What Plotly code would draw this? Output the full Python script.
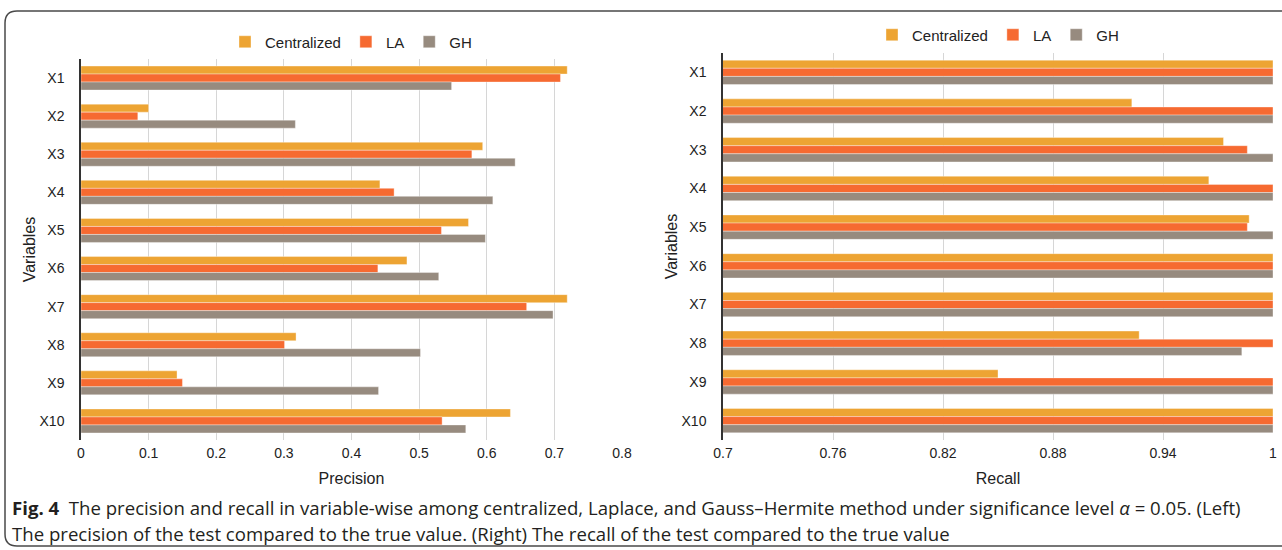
import plotly.graph_objects as go

W, H = 1282, 550

variables = ["X1", "X2", "X3", "X4", "X5", "X6", "X7", "X8", "X9", "X10"]
methods = ["Centralized", "LA", "GH"]

precision_centralized = [0.719, 0.100, 0.594, 0.442, 0.573, 0.482, 0.719, 0.318, 0.142, 0.635]
precision_la = [0.709, 0.084, 0.578, 0.463, 0.533, 0.439, 0.659, 0.301, 0.150, 0.534]
precision_gh = [0.548, 0.317, 0.642, 0.609, 0.598, 0.529, 0.698, 0.502, 0.440, 0.569]

recall_centralized = [1.0, 0.923, 0.973, 0.965, 0.987, 1.0, 1.0, 0.927, 0.850, 1.0]
recall_la = [1.0, 1.0, 0.986, 1.0, 0.986, 1.0, 1.0, 1.0, 1.0, 1.0]
recall_gh = [1.0, 1.0, 1.0, 1.0, 1.0, 1.0, 1.0, 0.983, 1.0, 1.0]

precision_ticks = [0, 0.1, 0.2, 0.3, 0.4, 0.5, 0.6, 0.7, 0.8]
precision_ticklabels = ["0", "0.1", "0.2", "0.3", "0.4", "0.5", "0.6", "0.7", "0.8"]
recall_ticks = [0.7, 0.76, 0.82, 0.88, 0.94, 1.0]
recall_ticklabels = ["0.7", "0.76", "0.82", "0.88", "0.94", "1"]

colors = {"Centralized": "#EDA433", "LA": "#F66A31", "GH": "#978B7F"}

FONT = "Liberation Sans, Arial, Helvetica, sans-serif"
CAPTION_FONT = "Open Sans, Noto Sans, sans-serif"


def px_x(x):
    return x / W


def px_y(y):
    return 1 - y / H


fig = go.Figure()

left_series = [precision_centralized, precision_la, precision_gh]
right_series = [recall_centralized, recall_la, recall_gh]

for name, vals in zip(methods, left_series):
    fig.add_trace(go.Bar(
        x=vals, y=variables, orientation="h", name=name,
        marker=dict(color=colors[name], line=dict(color="rgba(255,255,255,0.45)", width=0.8)),
        xaxis="x", yaxis="y", legend="legend", offsetgroup=name,
    ))

for name, vals in zip(methods, right_series):
    fig.add_trace(go.Bar(
        x=vals, y=variables, orientation="h", name=name,
        marker=dict(color=colors[name], line=dict(color="rgba(255,255,255,0.45)", width=0.8)),
        xaxis="x2", yaxis="y2", legend="legend2", offsetgroup=name,
    ))

axis_common = dict(
    automargin=False,
    showgrid=True, gridcolor="#D6D6D6", gridwidth=1,
    zeroline=False, ticks="", ticklabelstandoff=3,
    tickfont=dict(family=FONT, size=14, color="#222"),
    title_font=dict(family=FONT, size=16, color="#222"),
)
yaxis_common = dict(
    automargin=False,
    type="category", categoryorder="array", categoryarray=variables,
    autorange="reversed", showgrid=False, zeroline=False,
    showline=True, linecolor="#333", linewidth=1.5, ticks="",
    ticklabelstandoff=12,
    tickfont=dict(family=FONT, size=14, color="#222"),
    title=dict(text="Variables", font=dict(family=FONT, size=16, color="#222"), standoff=0),
)

fig.update_layout(
    width=W, height=H,
    margin=dict(l=0, r=0, t=0, b=0, autoexpand=False),
    paper_bgcolor="white", plot_bgcolor="white",
    barmode="group", bargap=0.37, bargroupgap=0,
    showlegend=True,
    xaxis=dict(domain=[px_x(81), px_x(622)], anchor="y", range=[0, 0.8],
               tickvals=precision_ticks, ticktext=precision_ticklabels,
               title=dict(text="Precision", standoff=12), **axis_common),
    yaxis=dict(domain=[px_y(440), px_y(59)], anchor="x", **yaxis_common),
    xaxis2=dict(domain=[px_x(723), px_x(1273)], anchor="y2", range=[0.7, 1.0],
                tickvals=recall_ticks, ticktext=recall_ticklabels,
                title=dict(text="Recall", standoff=12), **axis_common),
    yaxis2=dict(domain=[px_y(440), px_y(53)], anchor="x2", **yaxis_common),
    legend=dict(orientation="h", x=px_x(351), y=px_y(42), xanchor="center", yanchor="middle",
                font=dict(family=FONT, size=15, color="#222"), traceorder="normal",
                itemclick=False, bgcolor="rgba(0,0,0,0)"),
    legend2=dict(orientation="h", x=px_x(998), y=px_y(35), xanchor="center", yanchor="middle",
                 font=dict(family=FONT, size=15, color="#222"), traceorder="normal",
                 itemclick=False, bgcolor="rgba(0,0,0,0)"),
)

# rounded frame around the figure panel
left, top, right, bottom, r = 5, 11, 1300, 546, 12
path = (
    f"M {px_x(left)},{px_y(bottom - r)} "
    f"L {px_x(left)},{px_y(top + r)} "
    f"Q {px_x(left)},{px_y(top)} {px_x(left + r)},{px_y(top)} "
    f"L {px_x(right)},{px_y(top)} "
    f"M {px_x(left)},{px_y(bottom - r)} "
    f"Q {px_x(left)},{px_y(bottom)} {px_x(left + r)},{px_y(bottom)} "
    f"L {px_x(right)},{px_y(bottom)}"
)
fig.add_shape(type="path", path=path, xref="paper", yref="paper",
              line=dict(color="#4A4A4A", width=1.5))

caption_1 = ("<b>Fig. 4</b>  The precision and recall in variable-wise among centralized, Laplace, "
             "and Gauss–Hermite method under significance level <i>α</i> = 0.05. (Left)")
caption_2 = ("The precision of the test compared to the true value. (Right) "
             "The recall of the test compared to the true value")
for text, y in [(caption_1, 507), (caption_2, 533)]:
    fig.add_annotation(text=text, x=px_x(10), y=px_y(y), xref="paper", yref="paper",
                       xanchor="left", yanchor="middle", showarrow=False,
                       font=dict(family=CAPTION_FONT, size=18.6, color="#231F20"))

fig.write_html("out.html")
